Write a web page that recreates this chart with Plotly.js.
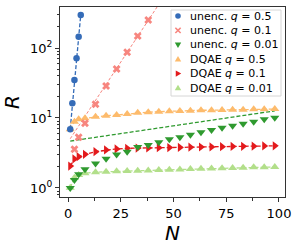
<!DOCTYPE html>
<html>
<head>
<meta charset="utf-8">
<script src="https://cdn.plot.ly/plotly-3.0.1.min.js"></script>
<style>html,body{margin:0;padding:0;background:#fff;}#chart{width:299px;height:249px;}</style>
</head>
<body>
<div id="chart"></div>
<script>
// ---- data ----
const nBlue = [1, 2, 3, 4, 5, 6];
const rBlue = [6.9, 16.2, 34.9, 71.3, 145, 296];
const nPink = [3, 5, 8, 13, 18, 23, 28, 33, 38];
const rPink = [3.57, 5.3, 8.4, 15.7, 28.7, 50.1, 86.9, 148, 251];
const nGrid = [1, 3, 5, 8, 13, 18, 23, 28, 33, 38, 43, 48, 53, 58, 63, 68, 73, 78, 83, 88, 93, 98];
const rGreen = [1.0, 1.3, 1.57, 1.85, 2.24, 2.62, 3.01, 3.3, 3.85, 4.11, 4.5, 4.96, 5.3, 5.77, 6.25, 6.74, 7.27, 7.76, 8.29, 8.85, 9.58, 10.1];
const rOrange = [6.9, 8.85, 9.6, 9.9, 10.4, 10.8, 11.0, 11.4, 11.9, 12.1, 12.3, 12.5, 12.6, 12.7, 12.9, 12.9, 13.0, 13.1, 13.1, 13.3, 13.3, 13.4];
const rRed = [2.06, 2.6, 2.8, 3.03, 3.3, 3.49, 3.61, 3.69, 3.72, 3.74, 3.76, 3.78, 3.80, 3.82, 3.85, 3.86, 3.89, 3.92, 3.94, 3.96, 3.98, 4.0];
const rLight = [1.01, 1.4, 1.53, 1.62, 1.68, 1.71, 1.73, 1.75, 1.76, 1.78, 1.80, 1.82, 1.84, 1.86, 1.88, 1.90, 1.92, 1.93, 1.95, 1.97, 1.98, 2.0];
// exponential fit lines (end points)
const fitBlueN = [1, 6];
const fitBlueR = [7.0, 300];
const fitPinkN = [1, 50];
const fitPinkR = [5.05, 878];
const fitGreenN = [1, 98];
const fitGreenR = [4.68, 12.65];
// legend labels
const legendPrefix = ['unenc.', 'unenc.', 'unenc.', 'DQAE', 'DQAE', 'DQAE'];
const legendQ = ['0.5', '0.1', '0.01', '0.5', '0.1', '0.01'];
const legendSymbols = ['circle', 'x', 'tri-down', 'tri-up', 'tri-right', 'tri-up'];
const xTicks = [0, 25, 50, 75, 100];
const yTicks = [1, 10, 100];
const yTickText = ['10<sup>0</sup>', '10<sup>1</sup>', '10<sup>2</sup>'];

const C = {blue:'#356cb8', pink:'#f7867f', green:'#2f9a2f', orange:'#fdbb6c', red:'#e31a1c', light:'#b2df8a'};
const legendColors = [C.blue, C.pink, C.green, C.orange, C.red, C.light];
const legendLabels = legendPrefix.map(function(p, i) {
  return p + ' <i>q</i> = ' + legendQ[i];
});

function line(x, y, color, width, dash) {
  return {x:x, y:y, type:'scatter', mode:'lines', showlegend:false, hoverinfo:'skip',
          line:{color:color, width:width, dash:dash}};
}
function pts(x, y, color, symbol, size, name) {
  return {x:x, y:y, type:'scatter', mode:'markers', name:name, showlegend:false,
          marker:{color:color, symbol:symbol, size:size, line:{width:0}}};
}

const traces = [
  line(fitGreenN, fitGreenR, C.green, 1.3, '4px,2px'),
  line(nGrid, rOrange, C.orange, 1.3, '4px,2px'),
  line(nGrid, rRed, C.red, 1.3, '4px,2px'),
  line(nGrid, rLight, C.light, 1.3, '4px,2px'),
  line(fitPinkN, fitPinkR, C.pink, 1.0, '3px,2px'),
  line(fitBlueN, fitBlueR, C.blue, 1.3, '4px,2px'),
  pts(nGrid, rLight, C.light, 'triangle-up', 8, 'DQAE q = 0.01'),
  pts(nGrid, rRed, C.red, 'triangle-right', 8, 'DQAE q = 0.1'),
  pts(nGrid, rGreen, C.green, 'triangle-down', 8, 'unenc. q = 0.01'),
  pts(nGrid, rOrange, C.orange, 'triangle-up', 8, 'DQAE q = 0.5'),
  pts(nPink, rPink, C.pink, 'x', 7, 'unenc. q = 0.1'),
  pts(nBlue, rBlue, C.blue, 'circle', 6.5, 'unenc. q = 0.5')
];

// ---- manual legend: plot area is 225 x 190 px, origin at (60,7) ----
const PW = 225, PH = 190, PL = 60, PT = 7;
function px(x) { return (x - PL) / PW; }
function py(y) { return 1 - (y - PT) / PH; }
function polyPath(cx, cy, pts) {
  return pts.map(function(p, i) { return (i ? 'L' : 'M') + px(cx + p[0]).toFixed(5) + ',' + py(cy + p[1]).toFixed(5); }).join(' ') + ' Z';
}
function keyShape(kind, cx, cy, color) {
  const base = {xref:'paper', yref:'paper', fillcolor:color, line:{width:0}, layer:'above'};
  let s = 3.2, pts;
  if (kind === 'circle') {
    return Object.assign(base, {type:'circle', x0:px(cx - 2.8), x1:px(cx + 2.8), y0:py(cy + 2.8), y1:py(cy - 2.8)});
  }
  if (kind === 'x') {
    const a = 1.1, b = 3.2;
    pts = [[-b,-b+a],[-b+a,-b],[0,-a],[b-a,-b],[b,-b+a],[a,0],[b,b-a],[b-a,b],[0,a],[-b+a,b],[-b,b-a],[-a,0]];
  } else if (kind === 'tri-up') {
    pts = [[0,-s],[s,s*0.7],[-s,s*0.7]];
  } else if (kind === 'tri-down') {
    pts = [[0,s],[s,-s*0.7],[-s,-s*0.7]];
  } else {
    pts = [[s,0],[-s*0.7,-s],[-s*0.7,s]];
  }
  return Object.assign(base, {type:'path', path:polyPath(cx, cy, pts)});
}

const annotations = [];
const shapes = [{type:'rect', xref:'paper', yref:'paper', x0:px(171), x1:px(281), y0:py(96), y1:py(10),
                 line:{color:'#d6d6d6', width:1}, fillcolor:'rgba(255,255,255,0.85)', layer:'above'}];
legendLabels.forEach(function(lbl, i) {
  const rowY = 16 + 14.4 * i;
  shapes.push(keyShape(legendSymbols[i], 178, rowY, legendColors[i]));
  annotations.push({xref:'paper', yref:'paper', x:px(187.5), y:py(rowY), text:lbl, showarrow:false,
    xanchor:'left', yanchor:'middle', font:{family:'DejaVu Sans', size:11, color:'#000'}});
});

const layout = {
  width:299, height:249,
  margin:{l:60, r:14, t:7, b:52, pad:0},
  paper_bgcolor:'#fff', plot_bgcolor:'#fff',
  font:{family:'DejaVu Sans', size:12, color:'#000'},
  showlegend:false,
  xaxis:{range:[-3.85, 102.85], tickmode:'array', tickvals:xTicks, ticks:'outside', ticklen:4, tickwidth:1,
         tickcolor:'#333', showline:true, mirror:true, linecolor:'#333', linewidth:1, showgrid:false, zeroline:false,
         tickfont:{size:13},
         minor:{tickmode:'linear', tick0:0, dtick:12.5, ticks:'outside', ticklen:2.5, tickcolor:'#333', showgrid:false},
         title:{text:'<i>N</i>', font:{size:20}, standoff:4}},
  yaxis:{type:'log', range:[-0.129, 2.586], tickmode:'array', tickvals:yTicks, ticktext:yTickText,
         ticks:'outside', ticklen:4, tickwidth:1, tickcolor:'#333', showline:true, mirror:true, linecolor:'#333',
         linewidth:1, showgrid:false, zeroline:false, tickfont:{size:13},
         minor:{ticks:'outside', ticklen:2.5, tickcolor:'#333', dtick:'D1', showgrid:false},
         title:{text:'<i>R</i>', font:{size:20}, standoff:6}},
  annotations:annotations,
  shapes:shapes
};

Plotly.newPlot('chart', traces, layout, {staticPlot:true, displayModeBar:false});
</script>
</body>
</html>
